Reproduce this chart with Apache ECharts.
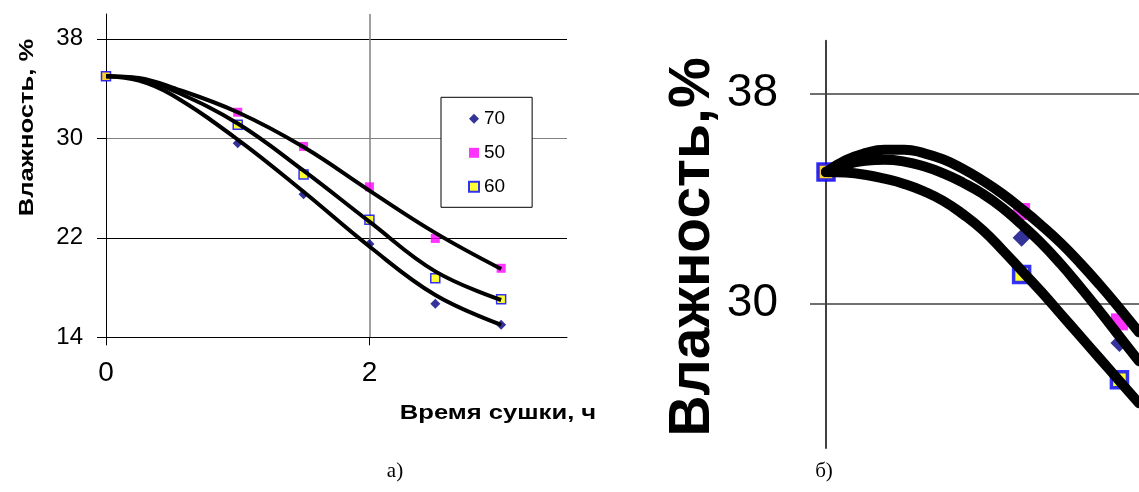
<!DOCTYPE html>
<html>
<head>
<meta charset="utf-8">
<script src="https://cdn.jsdelivr.net/npm/echarts@6/dist/echarts.min.js"></script>
<style>
html,body{margin:0;padding:0;background:#fff;}
#chart{width:1139px;height:492px;}
</style>
</head>
<body>
<div id="chart"></div>
<script>
// ---- data ----
const seriesNames = ['70', '50', '60'];
const xTicksA = [0, 2];
const yTicksA = [14, 22, 30, 38];
const yTicksB = [30, 38];

// panel a) measured points
const pts70a = [[0, 35], [1, 29.6], [1.5, 25.5], [2, 21.5], [2.5, 16.7], [3, 15.0]];
const pts50a = [[0, 35], [1, 32.1], [1.5, 29.35], [2, 26.1], [2.5, 21.95], [3, 19.55]];
const pts60a = [[0, 35], [1, 31.1], [1.5, 27.1], [2, 23.45], [2.5, 18.75], [3, 17.05]];
// panel a) trend curves
const fit70a = [[0, 35], [0.25, 34.65], [0.5, 33.5], [1, 29.9], [1.5, 25.7], [2, 21.3], [2.5, 17.4], [3, 15.0]];
const fit50a = [[0, 35], [0.25, 34.85], [0.5, 34.1], [1, 32.1], [1.5, 29.3], [2, 25.8], [2.5, 22.4], [3, 19.5]];
const fit60a = [[0, 35], [0.25, 34.8], [0.5, 33.9], [1, 31.2], [1.5, 27.4], [2, 23.3], [2.5, 19.3], [3, 17.0]];

// panel б) measured points
const pts70b = [[0, 35], [1, 32.5], [1.5, 28.5]];
const pts50b = [[0, 35], [1, 33.5], [1.5, 29.3]];
const pts60b = [[0, 35], [1, 31.1], [1.5, 27.1]];
// panel б) trend curves
const fit50b = [[0, 35], [0.1, 35.45], [0.2, 35.72], [0.3, 35.85], [0.4, 35.85], [0.5, 35.72], [0.6, 35.48], [0.7, 35.12], [0.8, 34.68], [0.9, 34.18], [1.0, 33.6], [1.1, 32.98], [1.2, 32.3], [1.3, 31.53], [1.4, 30.7], [1.5, 29.82], [1.6, 28.9]];
const fit70b = [[0, 35], [0.1, 35.28], [0.2, 35.43], [0.3, 35.47], [0.4, 35.4], [0.5, 35.22], [0.6, 34.95], [0.7, 34.6], [0.8, 34.18], [0.9, 33.65], [1.0, 33.0], [1.1, 32.3], [1.2, 31.5], [1.3, 30.62], [1.4, 29.7], [1.5, 28.75], [1.6, 27.8]];
const fit60b = [[0, 35], [0.1, 34.98], [0.2, 34.9], [0.3, 34.75], [0.4, 34.55], [0.5, 34.27], [0.6, 33.9], [0.7, 33.4], [0.8, 32.8], [0.9, 32.05], [1.0, 31.25], [1.1, 30.45], [1.2, 29.6], [1.3, 28.75], [1.4, 27.9], [1.5, 27.05], [1.6, 26.2]];

const yTitle = 'Влажность, %';
const yTitleB = 'Влажность,%';
const xTitle = 'Время сушки, ч';
const capA = 'а)';
const capB = 'б)';

// ---- styles ----
const FONT = '"Liberation Sans", Arial, sans-serif';
const markerA = {
  '70': {symbol: 'diamond', symbolSize: [10, 10], itemStyle: {color: '#000080'}},
  '50': {symbol: 'rect', symbolSize: 9, itemStyle: {color: '#FF00FF'}},
  '60': {symbol: 'rect', symbolSize: 9, itemStyle: {color: '#FFFF00', borderColor: '#0000FF', borderWidth: 1.5}}
};
const markerB = {
  '70': {symbol: 'diamond', symbolSize: [18, 18], itemStyle: {color: '#000080'}},
  '50': {symbol: 'rect', symbolSize: 17, itemStyle: {color: '#FF00FF'}},
  '60': {symbol: 'rect', symbolSize: 16, itemStyle: {color: '#FFFF00', borderColor: '#0000FF', borderWidth: 3.5}}
};
const ptsA = {'70': pts70a, '50': pts50a, '60': pts60a};
const fitA = {'70': fit70a, '50': fit50a, '60': fit60a};
const ptsB = {'70': pts70b, '50': pts50b, '60': pts60b};
const fitB = {'70': fit70b, '50': fit50b, '60': fit60b};

const series = [];
seriesNames.forEach(n => {
  series.push(Object.assign({
    name: n, type: 'scatter', xAxisIndex: 0, yAxisIndex: 0, z: 2, data: ptsA[n]
  }, markerA[n]));
});
seriesNames.forEach(n => {
  series.push({
    name: 'fitA' + n, type: 'line', xAxisIndex: 0, yAxisIndex: 0, z: 3, data: fitA[n],
    smooth: 0.4, showSymbol: false, silent: true,
    lineStyle: {color: '#000', width: 4}
  });
});
seriesNames.forEach(n => {
  series.push(Object.assign({
    name: n, type: 'scatter', xAxisIndex: 1, yAxisIndex: 1, z: 2, data: ptsB[n]
  }, markerB[n]));
});
seriesNames.forEach(n => {
  series.push({
    name: 'fitB' + n, type: 'line', xAxisIndex: 1, yAxisIndex: 1, z: 3, data: fitB[n],
    smooth: 0.5, showSymbol: false, silent: true, clip: true,
    lineStyle: {color: '#000', width: 10, join: 'round', cap: 'round'}
  });
});

const chart = echarts.init(document.getElementById('chart'), null, {renderer: 'canvas'});
chart.setOption({
  backgroundColor: '#fff',
  animation: false,
  textStyle: {fontFamily: FONT},
  grid: [
    {left: 106, top: 14, width: 461, height: 323.3, outerBoundsMode: 'none', containLabel: false},
    {left: 826, top: 40.7, right: 0, bottom: 44, outerBoundsMode: 'none', containLabel: false}
  ],
  xAxis: [
    {
      gridIndex: 0, type: 'value', min: 0, max: 3.5,
      axisLine: {show: true, onZero: false, lineStyle: {color: '#000', width: 1}},
      axisTick: {show: true, length: 8, customValues: xTicksA, lineStyle: {color: '#000'}},
      axisLabel: {show: true, customValues: xTicksA, fontSize: 28, color: '#000', margin: 22, fontFamily: FONT},
      splitLine: {show: true, showMinLine: false, lineStyle: {color: '#808080', width: 1.5}}
    },
    {
      gridIndex: 1, type: 'value', min: 0, max: 1.6, show: false,
      splitLine: {show: false}
    }
  ],
  yAxis: [
    {
      gridIndex: 0, type: 'value', min: 14, max: 40,
      axisLine: {show: true, onZero: false, lineStyle: {color: '#000', width: 1}},
      axisTick: {show: true, length: 9, customValues: yTicksA, lineStyle: {color: '#000'}},
      axisLabel: {show: true, customValues: yTicksA, fontSize: 24, color: '#000', margin: 23, fontFamily: FONT, padding: [8, 0, 0, 0]},
      splitLine: {show: true, lineStyle: {color: ['#000', '#000', '#808080', '#000'], width: 1}}
    },
    {
      gridIndex: 1, type: 'value', min: 24.5, max: 40,
      axisLine: {show: true, onZero: false, lineStyle: {color: '#404040', width: 2}},
      axisTick: {show: true, length: 16, customValues: yTicksB, lineStyle: {color: '#404040', width: 1.5}},
      axisLabel: {show: true, customValues: yTicksB, fontSize: 46, color: '#000', margin: 48, fontFamily: FONT},
      splitLine: {show: true, lineStyle: {color: '#404040', width: 1.5}}
    }
  ],
  legend: {
    data: seriesNames,
    orient: 'vertical',
    left: 441, top: 97.3,
    padding: [12, 27, 11, 27],
    itemGap: 15,
    itemWidth: 10, itemHeight: 10,
    backgroundColor: '#fff',
    borderColor: '#000', borderWidth: 1, borderRadius: 0,
    textStyle: {fontSize: 19, color: '#000', fontFamily: FONT},
    selectedMode: false
  },
  graphic: [
    {type: 'text', x: 27, y: 127.5, rotation: Math.PI / 2, scaleX: 1.28, z: 10,
      style: {text: yTitle, fontSize: 20, fontWeight: 'bold', fontFamily: FONT, fill: '#000', align: 'center', verticalAlign: 'middle'}},
    {type: 'text', x: 498, y: 413, scaleX: 1.28, z: 10,
      style: {text: xTitle, fontSize: 20, fontWeight: 'bold', fontFamily: FONT, fill: '#000', align: 'center', verticalAlign: 'middle'}},
    {type: 'text', x: 693, y: 247, rotation: Math.PI / 2, z: 10,
      style: {text: yTitleB, fontSize: 57, fontWeight: 'bold', fontFamily: FONT, fill: '#000', align: 'center', verticalAlign: 'middle'}},
    {type: 'text', x: 395, y: 471, z: 10,
      style: {text: capA, fontSize: 21, fontFamily: '"Liberation Serif", "Times New Roman", serif', fill: '#000', align: 'center', verticalAlign: 'middle'}},
    {type: 'text', x: 824, y: 471, z: 10,
      style: {text: capB, fontSize: 21, fontFamily: '"Liberation Serif", "Times New Roman", serif', fill: '#000', align: 'center', verticalAlign: 'middle'}}
  ],
  series: series
});
</script>
</body>
</html>
